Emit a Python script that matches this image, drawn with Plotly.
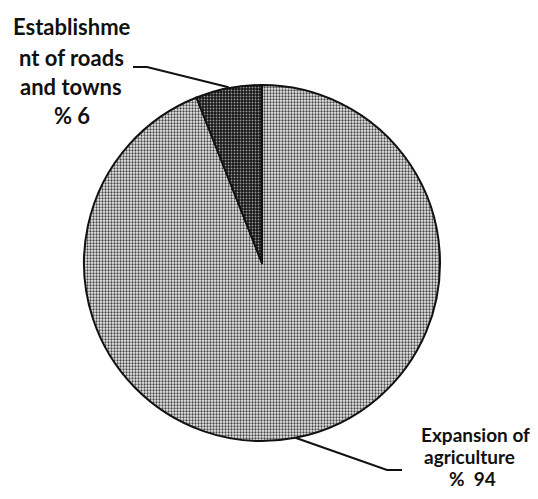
import math
import plotly.graph_objects as go

# data (drawn clockwise from 12 o'clock)
categories = ["Expansion of agriculture", "Establishment of roads and towns"]
values = [94, 6]
label_lines = [
    ["Expansion of", "agriculture", "%  94"],
    ["Establishme", "nt of roads", "and towns", "% 6"],
]

OFF = 8                      # browser body margin
W, H = 538 - OFF, 499 - OFF  # figure size
CX, CY, R = 262 - OFF, 263 - OFF, 178  # pie centre / radius in pixels


def sx(x):
    return x - OFF


fig = go.Figure(
    go.Pie(
        labels=categories,
        values=values,
        sort=False,
        direction="clockwise",
        rotation=0,
        textinfo="none",
        hoverinfo="label+percent",
        domain=dict(x=[(CX - R) / W, (CX + R) / W], y=[1 - (CY + R) / H, 1 - (CY - R) / H]),
        marker=dict(
            colors=["#bbbbbb", "#333333"],
            line=dict(color="#111111", width=2),
            pattern=dict(
                shape=[".", "."],
                fgcolor=["#454545", "#9a9a9a"],
                bgcolor=["#eeeeee", "#141414"],
                size=[3, 3],
                solidity=[0.45, 0.3],
                fillmode="replace",
            ),
        ),
        showlegend=False,
    )
)

# leader-line end points at slice mid-angles (clockwise from 12 o'clock)
total = sum(values)
edges = []
cum = 0
for v in values:
    mid = (cum + v / 2) / total * 2 * math.pi
    cum += v
    edges.append((CX + R * math.sin(mid), CY - R * math.cos(mid)))

(ex_agri, ey_agri), (ex_road, ey_road) = edges
path_road = [(sx(133), sx(67)), (sx(147), sx(67)), (ex_road, ey_road - 1)]
path_agri = [(ex_agri, ey_agri), (sx(387), sx(470)), (sx(402), sx(470))]


def svg_path(pts):
    s = ""
    for i, (x, y) in enumerate(pts):
        s += ("M" if i == 0 else " L") + f" {x:.1f} {y:.1f}"
    return s


shapes = []
for pts in (path_road, path_agri):
    shapes.append(
        dict(type="path", xref="x", yref="y", path=svg_path(pts),
             line=dict(color="#111111", width=2))
    )

annotations = []
top_pos = [(72, 26), (71, 57), (71, 86), (72, 115)]
for t, (x, y) in zip(label_lines[1], top_pos):
    annotations.append(dict(text=t, x=sx(x), y=sx(y), xref="x", yref="y", showarrow=False,
                            xanchor="center", yanchor="middle",
                            font=dict(family="Lato", size=22, color="#111111", weight="bold")))
bot_pos = [(475, 434.5), (469, 456.5), (472, 478.5)]
for t, (x, y) in zip(label_lines[0], bot_pos):
    annotations.append(dict(text=t, x=sx(x), y=sx(y), xref="x", yref="y", showarrow=False,
                            xanchor="center", yanchor="middle",
                            font=dict(family="Lato", size=19, color="#111111", weight="bold")))

fig.update_layout(
    width=W, height=H,
    margin=dict(l=0, r=0, t=0, b=0),
    paper_bgcolor="white", plot_bgcolor="white",
    xaxis=dict(range=[0, W], visible=False, fixedrange=True),
    yaxis=dict(range=[H, 0], visible=False, fixedrange=True),
    shapes=shapes,
    annotations=annotations,
)
fig.write_html("out.html")
